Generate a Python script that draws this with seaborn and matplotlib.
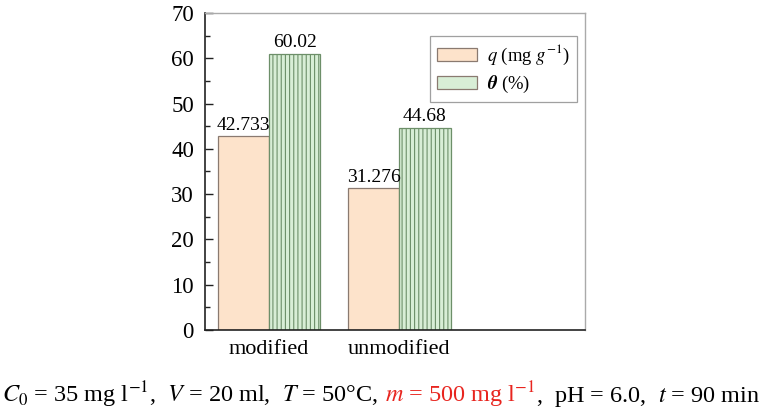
import matplotlib
matplotlib.use("Agg")
import matplotlib.pyplot as plt
import seaborn as sns
import pandas as pd
from matplotlib.ticker import MultipleLocator

categories = ["modified", "unmodified"]
q_values = [42.733, 31.276]
theta_values = [61.0, 44.68]
q_labels = ["42.733", "31.276"]
theta_labels = ["60.02", "44.68"]
series_names = [r"$q$ (mg $g^{-1}$)", r"$\boldsymbol{\theta}$ (%)"]

sns.set_theme(style="white")
plt.rcParams["font.family"] = ["Liberation Serif", "DejaVu Serif"]
plt.rcParams["mathtext.fontset"] = "stix"
plt.rcParams["text.color"] = "black"
plt.rcParams["xtick.color"] = "black"
plt.rcParams["ytick.color"] = "black"
plt.rcParams["hatch.color"] = "#5f8a5a"
plt.rcParams["hatch.linewidth"] = 0.8

df = pd.DataFrame({
    "category": categories * 2,
    "value": q_values + theta_values,
    "series": [series_names[0]] * 2 + [series_names[1]] * 2,
})

fig = plt.figure(figsize=(7.68, 4.13), dpi=100)
ax = fig.add_axes([0.267, 0.201, 0.495, 0.7675])

sns.barplot(data=df, x="category", y="value", hue="series", ax=ax,
            palette=["#fde3cb", "#d8eed6"], width=0.79, saturation=1,
            edgecolor="#8a7a70", linewidth=0.9)

n = len(categories)
for i, p in enumerate(ax.patches[:2 * n]):
    if i >= n:
        p.set_hatch("||||")
        p.set_edgecolor("#6d8f69")

labels_all = q_labels + theta_labels
for p, lab in zip(ax.patches[:2 * n], labels_all):
    ax.annotate(lab, (p.get_x() + p.get_width() / 2, p.get_height()),
                xytext=(0, 2), textcoords="offset points",
                ha="center", va="bottom", fontsize=14, color="black")

ax.set_ylim(0, 70)
ax.set_xlim(-0.492, 2.43)
ax.yaxis.set_major_locator(MultipleLocator(10))
ax.yaxis.set_minor_locator(MultipleLocator(5))
ax.tick_params(axis="y", which="major", direction="in", length=5.5, width=1,
               left=True, labelsize=16.5, color="#222222", pad=8)
ax.tick_params(axis="y", which="minor", direction="in", length=3.5, width=1,
               left=True, color="#222222")
ax.tick_params(axis="x", length=0, labelsize=16, pad=7)
ax.set_xlabel("")
ax.set_ylabel("")
for s in ["left", "bottom"]:
    ax.spines[s].set_color("#222222")
    ax.spines[s].set_linewidth(1.2)
for s in ["top", "right"]:
    ax.spines[s].set_color("#aaaaaa")
    ax.spines[s].set_linewidth(1.0)

handles, labels = ax.get_legend_handles_labels()
leg = ax.legend(handles, labels, loc="upper right", bbox_to_anchor=(0.979, 0.927),
                fontsize=13.4, frameon=True, fancybox=False, edgecolor="#888888",
                borderaxespad=0, handlelength=2.15, handleheight=0.7,
                labelspacing=0.38, borderpad=0.37, handletextpad=0.55)
leg.get_frame().set_linewidth(0.9)

fs = 17.5
y0 = 0.027
t1 = fig.text(0.002, y0, r"$C_0$ = 35 mg l$^{-1}$,  $V$ = 20 ml,  $T$ = 50°C,  ",
              fontsize=fs, color="black", ha="left", va="baseline")
t2 = fig.text(0, 0, r"$m$ = 500 mg l$^{-1}$", fontsize=fs, color="#e8251f",
              ha="left", va="baseline")
t3 = fig.text(0, 0, r",  pH = 6.0,  $t$ = 90 min", fontsize=fs, color="black",
              ha="left", va="baseline")
fig.canvas.draw()
r = fig.canvas.get_renderer()
inv = fig.transFigure.inverted()
bb1 = t1.get_window_extent(r)
t2.set_position((inv.transform((bb1.x1, 0))[0], y0))
fig.canvas.draw()
bb2 = t2.get_window_extent(r)
t3.set_position((inv.transform((bb2.x1, 0))[0], y0))

fig.savefig("out.png", dpi=100)
